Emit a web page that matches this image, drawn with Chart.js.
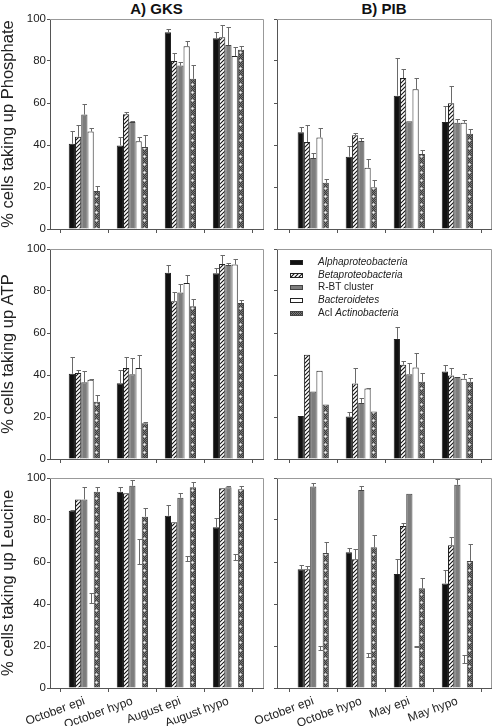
<!DOCTYPE html>
<html>
<head>
<meta charset="utf-8">
<script src="https://cdn.jsdelivr.net/npm/chart.js@4.4.1/dist/chart.umd.min.js"></script>
<style>
  body { margin: 0; background: #fff; }
  #page { position: relative; width: 492px; height: 726px; overflow: hidden; }
  canvas { position: absolute; }
  .title { position: absolute; top: 0; font: bold 15px 'Liberation Sans', Arial, sans-serif; text-align: center; line-height: 17px; color: #111; }
</style>
</head>
<body>
<div id="page">
  <div class="title" style="left:50px;width:213px">A) GKS</div>
  <div class="title" style="left:277px;width:214px">B) PIB</div>
  <canvas id="gksPhosphate" width="266" height="240" style="left:0;top:0"></canvas>
  <canvas id="pibPhosphate" width="252" height="240" style="left:240px;top:0"></canvas>
  <canvas id="gksAtp" width="266" height="230" style="left:0;top:240px"></canvas>
  <canvas id="pibAtp" width="252" height="230" style="left:240px;top:240px"></canvas>
  <canvas id="gksLeucine" width="266" height="256" style="left:0;top:470px"></canvas>
  <canvas id="pibLeucine" width="252" height="256" style="left:240px;top:470px"></canvas>
</div>
<script>
// categories and series
const gksCategories = ['October epi', 'October hypo', 'August epi', 'August hypo'];
const pibCategories = ['October epi', 'Octobe hypo', 'May epi', 'May hypo'];
const seriesNames = ['Alphaproteobacteria', 'Betaproteobacteria', 'R-BT cluster', 'Bacteroidetes', 'AcI Actinobacteria'];

// % cells, one row per series (Alpha, Beta, R-BT, Bacteroidetes, AcI)
const gksPhosphate = [
  [40.6, 39.8, 93.7, 90.8],
  [43.9, 54.7, 80.0, 91.3],
  [54.5, 50.9, 77.8, 87.6],
  [46.4, 41.8, 87.0, 82.4],
  [18.1, 39.0, 71.5, 85.3]
];
const gksPhosphateErr = [
  [6.3, 4.2, 1.5, 2.9],
  [5.7, 1.1, 3.7, 5.8],
  [5.2, 0.3, 1.6, 8.4],
  [1.9, 2.2, 2.5, 4.1],
  [2.2, 5.8, 6.8, 2.0]
];
const pibPhosphate = [
  [46.1, 34.4, 63.5, 51.0],
  [41.4, 44.7, 71.9, 59.9],
  [33.8, 41.9, 51.3, 50.6],
  [43.6, 29.2, 66.5, 50.6],
  [22.0, 19.9, 35.7, 45.3]
];
const pibPhosphateErr = [
  [2.7, 5.1, 17.9, 7.6],
  [8.0, 1.1, 4.2, 8.2],
  [2.4, 1.5, 0, 1.8],
  [4.7, 4.3, 5.4, 1.4],
  [2.0, 3.6, 1.9, 2.1]
];
const gksAtp = [
  [40.6, 36.1, 88.7, 88.4],
  [40.9, 43.3, 75.1, 92.9],
  [36.5, 40.3, 79.3, 92.4],
  [37.7, 43.3, 83.8, 92.6],
  [27.3, 17.0, 72.7, 74.3]
];
const gksAtpErr = [
  [7.9, 6.1, 3.9, 2.7],
  [1.3, 5.2, 4.5, 4.1],
  [5.2, 7.6, 3.9, 1.1],
  [0.3, 6.0, 3.7, 2.5],
  [3.3, 0.4, 3.7, 1.6]
];
const pibAtp = [
  [20.5, 20.2, 57.2, 41.7],
  [49.6, 36.0, 44.9, 39.8],
  [32.2, 26.7, 40.4, 39.0],
  [42.0, 33.6, 43.6, 38.2],
  [25.9, 22.6, 36.8, 36.8]
];
const pibAtpErr = [
  [0, 2.1, 5.7, 3.0],
  [0, 7.1, 1.7, 3.3],
  [0, 2.4, 5.4, 0],
  [0, 0.4, 7.0, 2.4],
  [0, 0, 4.1, 1.9]
];
const gksLeucine = [
  [84.4, 93.5, 82.0, 76.5],
  [89.8, 92.7, 78.9, 95.1],
  [89.8, 96.3, 90.6, 95.6],
  [42.9, 64.9, 61.8, 62.3],
  [93.5, 81.6, 95.6, 94.6]
];
const gksLeucineErr = [
  [0.6, 2.1, 5.1, 4.3],
  [0, 0, 0, 0],
  [5.8, 2.7, 2.4, 0.7],
  [2.4, 6.0, 1.2, 1.3],
  [2.1, 4.0, 2.4, 1.6]
];
const pibLeucine = [
  [56.5, 64.6, 54.3, 49.8],
  [56.5, 61.3, 77.1, 68.0],
  [95.9, 94.3, 92.5, 96.8],
  [19.0, 15.6, 19.8, 13.7],
  [64.3, 67.0, 47.5, 60.5]
];
const pibLeucineErr = [
  [1.9, 1.9, 7.1, 6.4],
  [1.5, 5.0, 1.6, 3.8],
  [1.9, 1.9, 0, 2.6],
  [1.0, 1.0, 0.3, 1.9],
  [5.2, 5.7, 4.7, 8.2]
];
const yTicks = [0, 20, 40, 60, 80, 100];

Chart.defaults.font.family = "'Liberation Sans', Arial, sans-serif";
Chart.defaults.color = '#222';

// fill patterns
function makeTile(w, h, paint) {
  const c = document.createElement('canvas');
  c.width = w; c.height = h;
  paint(c.getContext('2d'));
  return c;
}
const hatchTile = makeTile(4, 4, g => {
  g.fillStyle = '#fff'; g.fillRect(0, 0, 4, 4);
  g.strokeStyle = '#111'; g.lineWidth = 1.1;
  g.beginPath();
  g.moveTo(-1, 5); g.lineTo(5, -1);
  g.moveTo(-1, 1); g.lineTo(1, -1);
  g.moveTo(3, 5); g.lineTo(5, 3);
  g.stroke();
});
const aciTile = makeTile(6, 8, g => {
  for (let x = 0; x < 6; x++) {
    for (let y = 0; y < 8; y++) {
      g.fillStyle = (x + y) % 2 ? '#7c7c7c' : '#3a3a3a';
      g.fillRect(x, y, 1, 1);
    }
  }
  g.fillStyle = '#c8c8c8';
  [[3, 3], [2, 4], [4, 4], [3, 5]].forEach(p => g.fillRect(p[0], p[1], 1, 1));
  g.fillStyle = '#f4f4f4';
  g.fillRect(3, 4, 1, 1);
});
const hatch = hatchTile.getContext('2d').createPattern(hatchTile, 'repeat');
const aciBase = aciTile.getContext('2d').createPattern(aciTile, 'repeat');

function aciFill(ctx) {
  const xs = ctx.chart.scales.x;
  if (!xs || ctx.dataIndex === undefined) return aciBase;
  const step = xs.getPixelForValue(1) - xs.getPixelForValue(0);
  const cx = xs.getPixelForValue(ctx.dataIndex) + 2 * step * 0.65 / 5;
  const p = aciTile.getContext('2d').createPattern(aciTile, 'repeat');
  p.setTransform(new DOMMatrix().translate(Math.round(cx - 3.5), 0));
  return p;
}

const fills = ['#111', hatch, '#7d7d7d', '#fff', aciFill];
const legendFills = ['#111', hatch, '#7d7d7d', '#fff', aciBase];
const borders = ['#222', '#222', '#444', '#222', '#444'];
const legendLabels = [
  [['Alphaproteobacteria', true]],
  [['Betaproteobacteria', true]],
  [['R-BT cluster', false]],
  [['Bacteroidetes', true]],
  [['AcI ', false], ['Actinobacteria', true]]
];

const errorBars = {
  id: 'errorBars',
  afterDatasetsDraw(chart) {
    const ctx = chart.ctx, y = chart.scales.y;
    ctx.save();
    ctx.strokeStyle = '#6a6a6a';
    ctx.lineWidth = 1;
    chart.data.datasets.forEach((ds, s) => {
      chart.getDatasetMeta(s).data.forEach((bar, i) => {
        const e = ds.errors[i];
        if (!e) return;
        const v = ds.data[i].y;
        const x = Math.round(bar.x) + 0.5;
        const top = Math.round(y.getPixelForValue(v + e)) + 0.5;
        const bot = ds.twoSided ? Math.round(y.getPixelForValue(v - e)) + 0.5 : bar.y;
        ctx.beginPath();
        ctx.moveTo(x, bot); ctx.lineTo(x, top);
        ctx.moveTo(x - 2, top); ctx.lineTo(x + 2.5, top);
        if (ds.twoSided) { ctx.moveTo(x - 2, bot); ctx.lineTo(x + 2.5, bot); }
        ctx.stroke();
      });
    });
    ctx.restore();
  }
};

const frame = {
  id: 'frame',
  afterDraw(chart) {
    const {ctx, chartArea: a} = chart;
    ctx.save();
    ctx.strokeStyle = '#999';
    ctx.lineWidth = 1;
    ctx.beginPath();
    ctx.moveTo(a.left, Math.round(a.top) + 0.5);
    ctx.lineTo(Math.round(a.right) + 0.5, Math.round(a.top) + 0.5);
    ctx.lineTo(Math.round(a.right) + 0.5, a.bottom);
    ctx.stroke();
    ctx.restore();
  }
};

const seriesLegend = {
  id: 'seriesLegend',
  afterDraw(chart) {
    const {ctx, chartArea: a} = chart;
    ctx.save();
    ctx.textBaseline = 'middle';
    legendLabels.forEach((parts, k) => {
      const cy = a.top + 13.3 + k * 12.7;
      ctx.fillStyle = legendFills[k];
      ctx.fillRect(a.left + 13, Math.round(cy - 2.5), 13, 5);
      ctx.strokeStyle = borders[k];
      ctx.strokeRect(a.left + 13.5, Math.round(cy - 2.5) + 0.5, 12, 4);
      let tx = a.left + 41;
      parts.forEach(([text, italic]) => {
        ctx.font = (italic ? 'italic ' : '') + "10px 'Liberation Sans', Arial, sans-serif";
        ctx.fillStyle = '#222';
        ctx.fillText(text, tx, cy);
        tx += ctx.measureText(text).width;
      });
    });
    ctx.restore();
  }
};

function makePanel(id, cats, values, errs, cfg) {
  const left = cfg.col === 0;
  const datasets = values.map((vals, s) => ({
    label: seriesNames[s],
    data: vals.map((v, i) => ({x: i, y: v})),
    errors: errs[s],
    twoSided: cfg.leucine && s === 3,
    backgroundColor: fills[s],
    borderColor: borders[s],
    borderWidth: (cfg.leucine && s === 3) ? 0 : 1,
    categoryPercentage: 0.65,
    barPercentage: 1.0
  }));
  const plugins = [errorBars, frame];
  if (cfg.legend) plugins.push(seriesLegend);
  return new Chart(document.getElementById(id), {
    type: 'bar',
    data: {datasets},
    options: {
      responsive: false,
      animation: false,
      layout: {padding: {top: cfg.top, right: left ? 3 : 1, left: 0, bottom: 0}},
      plugins: {legend: {display: false}, tooltip: {enabled: false}},
      scales: {
        x: {
          type: 'linear',
          min: left ? -0.715 : -0.755,
          max: left ? 3.72 : 3.70,
          offset: false,
          afterBuildTicks: s => { s.ticks = cats.map((c, i) => ({value: i})); },
          afterFit: s => { s.height = cfg.xh; },
          grid: {drawOnChartArea: false, color: '#555', tickLength: 4},
          border: {color: '#555'},
          ticks: {
            display: cfg.labels, autoSkip: false, minRotation: 20, maxRotation: 20,
            font: {size: 12}, color: '#222', padding: 2,
            callback: v => cats[v] ?? ''
          }
        },
        y: {
          min: 0, max: 100,
          afterBuildTicks: s => { s.ticks = yTicks.map(v => ({value: v})); },
          afterFit: s => { s.width = left ? 50 : 37; },
          grid: {drawOnChartArea: false, color: '#555', tickLength: 3},
          border: {color: '#555'},
          ticks: {display: left, font: {size: 11.5}, color: '#222', padding: 1},
          title: {display: left, text: cfg.yTitle, font: {size: 16.5, lineHeight: 1}, padding: 0, color: '#222'}
        }
      }
    },
    plugins
  });
}

makePanel('gksPhosphate', gksCategories, gksPhosphate, gksPhosphateErr, {col: 0, top: 19, xh: 11, labels: false, yTitle: '% cells taking up Phosphate'});
makePanel('pibPhosphate', pibCategories, pibPhosphate, pibPhosphateErr, {col: 1, top: 19, xh: 11, labels: false});
makePanel('gksAtp', gksCategories, gksAtp, gksAtpErr, {col: 0, top: 9, xh: 11, labels: false, yTitle: '% cells taking up ATP'});
makePanel('pibAtp', pibCategories, pibAtp, pibAtpErr, {col: 1, top: 9, xh: 11, labels: false, legend: true});
makePanel('gksLeucine', gksCategories, gksLeucine, gksLeucineErr, {col: 0, top: 8, xh: 38, labels: true, leucine: true, yTitle: '% cells taking up Leucine'});
makePanel('pibLeucine', pibCategories, pibLeucine, pibLeucineErr, {col: 1, top: 8, xh: 38, labels: true, leucine: true});
</script>
</body>
</html>
